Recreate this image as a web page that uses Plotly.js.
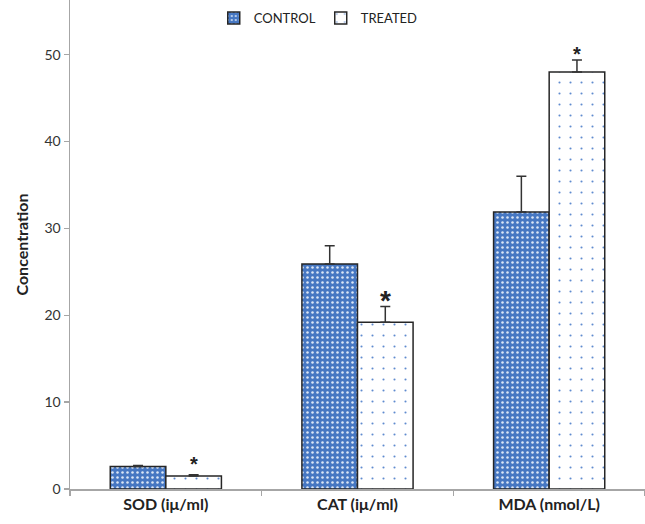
<!DOCTYPE html>
<html>
<head>
<meta charset="utf-8">
<script src="https://cdn.plot.ly/plotly-3.0.1.min.js"></script>
<style>html,body{margin:0;padding:0;background:#fff;}#chart{width:645px;height:524px;}</style>
</head>
<body>
<div id="chart"></div>
<script>
const categories = ["SOD (iμ/ml)", "CAT (iμ/ml)", "MDA (nmol/L)"];
const controlValues = [2.6, 25.9, 31.9];
const controlErrors = [0.1, 2.1, 4.1];
const treatedValues = [1.5, 19.2, 48.0];
const treatedErrors = [0.15, 1.8, 1.4];
const significant = [true, true, true];
const starSizes = [20, 28, 20];
const starShifts = [-2, -11, -7];

const BARGAP = 0.42;
const FONT = "Lato, 'Open Sans', sans-serif";

const errStyle = (arr) => ({type: 'data', symmetric: false, array: arr,
  arrayminus: arr.map(() => 0), color: '#333333', thickness: 1.5, width: 5});

const control = {
  type: 'bar', name: 'CONTROL', x: categories, y: controlValues,
  marker: {color: '#4677c2', line: {color: '#262626', width: 1.5},
    pattern: {shape: '.', fgcolor: '#dbe6f5', bgcolor: '#4677c2', size: 5, solidity: 0.2}},
  error_y: errStyle(controlErrors)
};
const treated = {
  type: 'bar', name: 'TREATED', x: categories, y: treatedValues,
  marker: {color: '#ffffff', line: {color: '#262626', width: 1.5},
    pattern: {shape: '.', fgcolor: '#5f8bcf', bgcolor: '#ffffff', size: 11, solidity: 0.03}},
  error_y: errStyle(treatedErrors)
};

const offset = (1 - BARGAP) / 4;
const annotations = [];
categories.forEach((c, i) => {
  if (significant[i]) {
    annotations.push({x: i + offset, y: treatedValues[i] + treatedErrors[i], xref: 'x', yref: 'y',
      text: '*', showarrow: false, yanchor: 'bottom', yshift: starShifts[i],
      font: {family: "'Liberation Sans', Arial, sans-serif", size: starSizes[i], color: '#222', weight: 'bold'}});
  }
});

const layout = {
  width: 645, height: 524,
  margin: {l: 70, r: 0, t: 0, b: 35},
  paper_bgcolor: '#fff', plot_bgcolor: '#fff',
  barmode: 'group', bargap: BARGAP, bargroupgap: 0,
  font: {family: FONT, color: '#333'},
  showlegend: true,
  legend: {orientation: 'h', x: 0.25, xanchor: 'left', y: 0.963, yanchor: 'middle',
    font: {family: FONT, size: 13, color: '#222'}, itemwidth: 30, bgcolor: 'rgba(0,0,0,0)',
    tracegroupgap: 0},
  xaxis: {type: 'category', range: [-0.5, 2.5], showgrid: false, showline: true,
    linecolor: '#a6a6a6', linewidth: 1.5, ticks: 'outside', tickson: 'boundaries',
    ticklen: 5, tickcolor: '#a6a6a6', tickwidth: 1.5,
    tickfont: {family: FONT, size: 16, color: '#222', weight: 'bold'}},
  yaxis: {range: [0, 56.3], dtick: 10, showgrid: false, zeroline: false, showline: true,
    linecolor: '#a6a6a6', linewidth: 1.5, ticks: 'outside', ticklen: 5,
    tickcolor: '#a6a6a6', tickwidth: 1.5,
    tickfont: {family: FONT, size: 14, color: '#333'},
    title: {text: 'Concentration', standoff: 12, font: {family: FONT, size: 16, color: '#222', weight: 'bold'}}},
  annotations: annotations
};

Plotly.newPlot('chart', [control, treated], layout, {displayModeBar: false, staticPlot: true});
</script>
</body>
</html>
